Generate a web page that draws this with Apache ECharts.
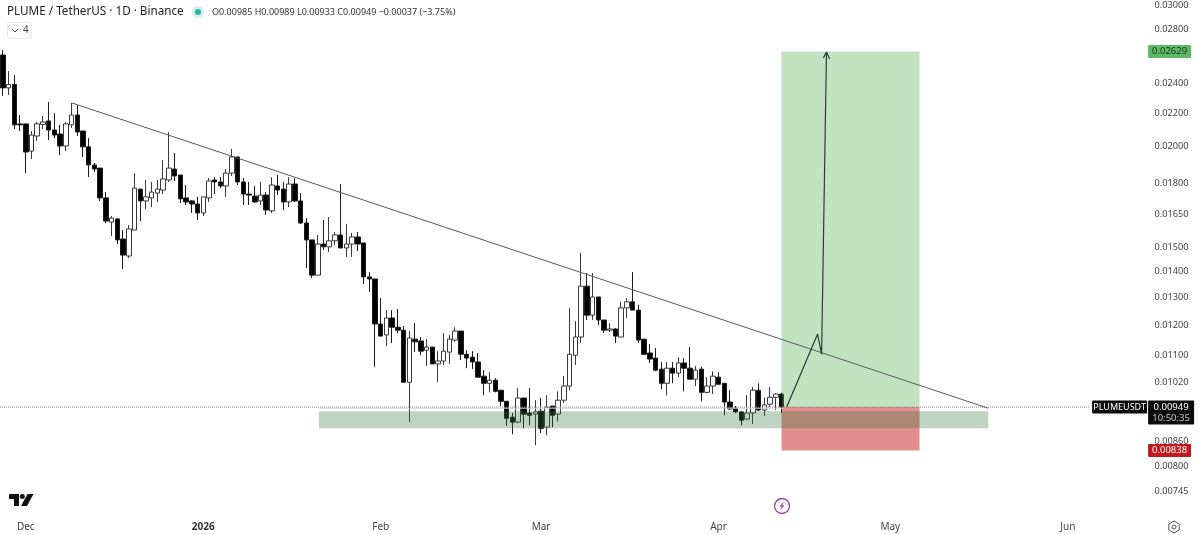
<!DOCTYPE html>
<html><head><meta charset="utf-8">
<style>html,body{margin:0;padding:0;background:#fff}#c{width:1199px;height:535px}</style>
<script src="https://cdn.jsdelivr.net/npm/echarts@6/dist/echarts.min.js"></script>
</head><body><div id="c"></div>
<script>
const opens=[.02602,.02368,.02391,.02136,.02136,.01976,.02063,.02133,.02154,.02099,.02075,.02005,.02130,.02191,.02093,.02000,.01899,.01882,.01728,.01612,.01627,.01536,.01463,.01576,.01772,.01713,.01728,.01752,.01767,.01819,.01877,.01845,.01728,.01713,.01698,.01655,.01728,.01819,.01809,.01788,.01855,.01943,.01809,.01747,.01737,.01713,.01742,.01665,.01788,.01772,.01708,.01798,.01713,.01608,.01532,.01385,.01514,.01502,.01528,.01554,.01497,.01514,.01545,.01519,.01378,.01370,.01204,.01167,.01225,.01193,.01183,.01019,.01153,.01147,.01117,.01127,.01074,.01083,.01111,.01150,.01180,.01104,.01095,.01080,.01037,.01016,.01025,.00996,.00965,.00922,.00909,.00974,.00933,.00930,.00938,.00896,.00952,.00930,.00968,.01008,.01101,.01160,.01342,.01235,.01301,.01218,.01183,.01187,.01160,.01261,.01283,.01253,.01153,.01108,.01092,.01058,.01016,.01061,.01046,.01077,.01061,.01028,.01058,.00990,.01008,.01034,.01016,.00963,.00946,.00936,.00917,.00933,.00996,.00941,.00957,.00976,.00985];
const closes=[.02368,.02391,.02130,.02130,.01971,.02069,.02136,.02148,.02099,.02069,.02005,.02136,.02191,.02087,.02000,.01899,.01877,.01728,.01617,.01631,.01532,.01467,.01581,.01777,.01713,.01733,.01757,.01772,.01824,.01882,.01840,.01723,.01708,.01698,.01655,.01733,.01814,.01809,.01788,.01855,.01943,.01809,.01747,.01742,.01708,.01742,.01669,.01793,.01767,.01708,.01798,.01713,.01608,.01532,.01385,.01514,.01502,.01528,.01554,.01497,.01514,.01545,.01514,.01378,.01370,.01204,.01163,.01225,.01193,.01183,.01019,.01157,.01144,.01114,.01127,.01074,.01083,.01114,.01153,.01180,.01104,.01092,.01080,.01034,.01016,.01025,.00993,.00965,.00919,.00909,.00974,.00930,.00927,.00936,.00893,.00949,.00927,.00968,.01008,.01104,.01160,.01342,.01235,.01301,.01218,.01183,.01187,.01163,.01261,.01283,.01253,.01150,.01104,.01089,.01055,.01016,.01061,.01046,.01077,.01061,.01028,.01055,.00990,.01008,.01037,.01013,.00963,.00944,.00936,.00914,.00933,.00996,.00941,.00955,.00976,.00985,.00949];
const highs=[.02639,.02485,.02457,.02191,.02136,.02093,.02148,.02185,.02274,.02203,.02130,.02148,.02268,.02255,.02093,.02051,.01910,.01882,.01757,.01641,.01631,.01576,.01599,.01855,.01772,.01819,.01809,.01819,.01926,.02087,.01965,.01845,.01793,.01718,.01733,.01733,.01829,.01834,.01834,.01877,.01988,.01943,.01829,.01809,.01788,.01809,.01757,.01834,.01845,.01809,.01834,.01829,.01752,.01631,.01532,.01554,.01622,.01636,.01567,.01798,.01604,.01563,.01567,.01519,.01397,.01370,.01297,.01253,.01253,.01257,.01197,.01180,.01207,.01160,.01153,.01127,.01114,.01173,.01167,.01193,.01180,.01117,.01114,.01108,.01055,.01049,.01031,.00996,.00965,.00933,.01002,.00974,.01002,.00968,.00974,.00982,.00952,.00993,.01037,.01261,.01214,.01476,.01393,.01393,.01301,.01218,.01207,.01190,.01283,.01297,.01397,.01272,.01153,.01137,.01124,.01080,.01080,.01080,.01095,.01092,.01127,.01068,.01065,.01034,.01052,.01049,.01016,.00996,.00952,.00936,.00982,.01005,.01016,.00976,.01005,.00987,.00989];
const lows=[.02314,.02320,.02105,.02093,.01855,.01932,.02033,.02105,.02039,.02051,.01954,.01976,.02112,.02063,.01943,.01834,.01861,.01713,.01608,.01549,.01514,.01409,.01455,.01576,.01617,.01674,.01683,.01708,.01747,.01809,.01814,.01703,.01693,.01655,.01622,.01641,.01708,.01747,.01777,.01733,.01840,.01793,.01693,.01693,.01703,.01693,.01646,.01655,.01742,.01669,.01683,.01708,.01604,.01413,.01374,.01385,.01488,.01480,.01510,.01497,.01459,.01459,.01484,.01350,.01320,.01065,.01163,.01130,.01140,.01173,.01019,.00909,.01111,.01101,.01068,.01074,.01019,.01071,.01074,.01144,.01086,.01061,.01058,.01034,.00982,.00990,.00990,.00952,.00899,.00878,.00906,.00893,.00901,.00851,.00881,.00876,.00896,.00911,.00960,.00996,.01071,.01140,.01218,.01218,.01200,.01173,.01177,.01140,.01160,.01225,.01253,.01140,.01101,.01077,.01052,.00999,.00982,.01016,.01034,.00993,.01028,.01008,.00965,.00987,.00985,.01013,.00927,.00941,.00933,.00901,.00914,.00904,.00938,.00925,.00949,.00941,.00933];

const firstDay='2025-11-27', dayCount=200;
const monthLabels={'2025-12-01':'Dec','2026-01-01':'2026','2026-02-01':'Feb','2026-03-01':'Mar','2026-04-01':'Apr','2026-05-01':'May','2026-06-01':'Jun'};
const priceTicks=[.03,.028,.026,.024,.022,.02,.018,.0165,.015,.014,.013,.012,.011,.0102,.0086,.008,.00745];

const lastPrice=.00949, targetPrice=.02629, stopPrice=.00838;
const trendLine=[[12.06,.02268],[172.1,.00946]];
const forecastPath=[[136.9,.00949],[142.3,.0117],[143,.01104],[143.85,.02624]];
const arrowHead=[[143.3,.0258],[143.85,.02624],[144.4,.02572]];
const priceLine=[[-0.5,lastPrice],[189.9,lastPrice]];
const zoneEdge=[[55.2,.00946],[136.5,.00946]];
const zones=[[136,160.1,targetPrice,lastPrice],[136,160.1,lastPrice,stopPrice],[55.2,172.1,.00938,.00893]];
const zoneFills=['rgba(76,175,80,0.35)','rgba(200,30,30,0.5)','rgba(56,120,60,0.32)'];
const priceTags=[[targetPrice,'0.02629'],[lastPrice,'0.00949'],[stopPrice,'0.00838']];

const categories=[];
{const d=new Date(firstDay+'T00:00:00Z');for(let i=0;i<dayCount;i++){categories.push(d.toISOString().slice(0,10));d.setUTCDate(d.getUTCDate()+1);}}
const candles=opens.map((o,i)=>[o,closes[i],lows[i],highs[i]]);
const FONT='"Noto Sans","Open Sans",sans-serif';
const overlay=(data,color,width,type,z)=>({type:'line',xAxisIndex:1,yAxisIndex:0,data,showSymbol:false,symbol:'none',silent:true,clip:false,z:z||5,lineStyle:{color,width,type:type||'solid'},animation:false});

const chart=echarts.init(document.getElementById('c'),null,{renderer:'canvas'});
chart.setOption({
 animation:false,backgroundColor:'#fff',
 grid:{left:-1.5,top:0,width:1146.6,height:512,containLabel:false},
 xAxis:[
  {type:'category',data:categories,boundaryGap:true,position:'bottom',axisLine:{show:false},axisTick:{show:false},splitLine:{show:false},
   axisLabel:{margin:10,color:'#444',fontFamily:FONT,fontSize:10,hideOverlap:false,interval:(i,v)=>!!monthLabels[v],
    formatter:v=>{const t=monthLabels[v]||'';return t==='2026'?'{b|2026}':t;},rich:{b:{fontWeight:'bold',fontSize:10,color:'#333',fontFamily:FONT}}}},
  {type:'value',min:-0.5,max:dayCount-0.5,show:false,splitLine:{show:false}}
 ],
 yAxis:[{type:'log',logBase:10,min:.007027,max:.03046,position:'right',axisLine:{show:false},axisTick:{show:false},splitLine:{show:false},minorSplitLine:{show:false},
   axisLabel:{customValues:priceTicks,margin:9.5,color:'#444',fontFamily:FONT,fontSize:9.2,showMinLabel:true,showMaxLabel:true,hideOverlap:false,formatter:v=>Number(v).toFixed(5)}}],
 series:[
  {type:'candlestick',data:candles,xAxisIndex:0,yAxisIndex:0,barWidth:5,z:3,silent:true,
   itemStyle:{color:'#fff',color0:'#000',borderColor:'#3a3a3a',borderColor0:'#1c1c1c',borderWidth:1}},
  {type:'custom',xAxisIndex:1,yAxisIndex:0,z:4,silent:true,clip:false,data:zones,encode:{x:[0,1],y:[2,3]},
   renderItem:(p,api)=>{const a=api.coord([api.value(0),api.value(2)]),b=api.coord([api.value(1),api.value(3)]);
    return {type:'rect',shape:{x:a[0],y:a[1],width:b[0]-a[0],height:b[1]-a[1]},style:{fill:zoneFills[p.dataIndex]}};}},
  overlay(priceLine,'#8a8a8a',1,'dotted',4),
  overlay(zoneEdge,'#cfcfcf',1,'solid',4),
  overlay(trendLine,'#5a5a5a',1),
  overlay(forecastPath,'#2f3a34',1.2),
  overlay(arrowHead,'#2f3a34',1.2),
  {type:'custom',xAxisIndex:1,yAxisIndex:0,z:10,silent:true,clip:false,data:priceTags.map(t=>[t[0]]),encode:{y:0},
   renderItem:(p,api)=>{
    const t=priceTags[p.dataIndex],y=api.coord([0,t[0]])[1],x=p.coordSys.x+p.coordSys.width+3;
    const txt=(tx,ty,s,fill,al,sz)=>({type:'text',style:{x:tx,y:ty,text:s,fill,align:al||'center',verticalAlign:'middle',font:(sz||9.5)+'px '+FONT}});
    if(p.dataIndex===0)return{type:'group',children:[{type:'rect',shape:{x,y:y-6.5,width:43,height:13,r:1},style:{fill:'#62b766'}},txt(x+21.5,y,t[1],'#0f3d16')]};
    if(p.dataIndex===2)return{type:'group',children:[{type:'rect',shape:{x,y:y-6.5,width:43,height:13,r:1},style:{fill:'#c1191f'}},txt(x+21.5,y,t[1],'#fff')]};
    return{type:'group',children:[
     {type:'rect',shape:{x:x-56,y:y-6.5,width:55,height:13,r:1},style:{fill:'#0a0a0a'}},txt(x-28.5,y,'PLUMEUSDT','#fff','center',9),
     {type:'rect',shape:{x,y:y-6.5,width:46,height:24,r:1},style:{fill:'#0a0a0a'}},txt(x+23,y,t[1],'#fff'),txt(x+23,y+11,'10:50:35','#c8c8c8','center',9.5)]};
   }}
 ],
 graphic:[
  {type:'text',x:7,y:12,style:{text:'PLUME / TetherUS · 1D · Binance',fill:'#222',font:'11.7px '+FONT,verticalAlign:'middle'}},
  {type:'circle',shape:{cx:198,cy:12,r:6},style:{fill:'rgba(38,184,154,0.2)'}},
  {type:'circle',shape:{cx:198,cy:12,r:3},style:{fill:'#26b89a'}},
  {type:'text',x:212,y:12,style:{text:'O0.00985 H0.00989 L0.00933 C0.00949 −0.00037 (−3.75%)',fill:'#333',font:'9px '+FONT,verticalAlign:'middle'}},
  {type:'rect',shape:{x:7.5,y:22.5,width:24,height:16,r:2},style:{fill:'#fff',stroke:'#e6e6e6',lineWidth:1}},
  {type:'polyline',shape:{points:[[12,29],[15,32],[18,29]]},style:{stroke:'#444',fill:null,lineWidth:1}},
  {type:'text',x:23,y:30.5,style:{text:'4',fill:'#444',font:'10px '+FONT,verticalAlign:'middle'}},
  {type:'polygon',shape:{points:[[9,494],[19,494],[19,506],[14,506],[14,499],[9,499]]},style:{fill:'#111'}},
  {type:'circle',shape:{cx:22.3,cy:496.5,r:2.5},style:{fill:'#111'}},
  {type:'polygon',shape:{points:[[27.5,494],[33.5,494],[27,506],[21,506]]},style:{fill:'#111'}},
  {type:'circle',shape:{cx:782,cy:506,r:7.5},style:{fill:'#fff',stroke:'#9c3fb0',lineWidth:1.3}},
  {type:'polygon',shape:{points:[[784,501.5],[779.5,506.5],[781.7,506.5],[780,510.5],[784.5,505.5],[782.3,505.5]]},style:{fill:'#9c3fb0'}},
  {type:'polygon',shape:{points:[[1174,521],[1179.2,524],[1179.2,530],[1174,533],[1168.8,530],[1168.8,524]]},style:{fill:'none',stroke:'#555',lineWidth:1}},
  {type:'circle',shape:{cx:1174,cy:527,r:2},style:{fill:'none',stroke:'#555',lineWidth:1}}
 ]
});
</script></body></html>
